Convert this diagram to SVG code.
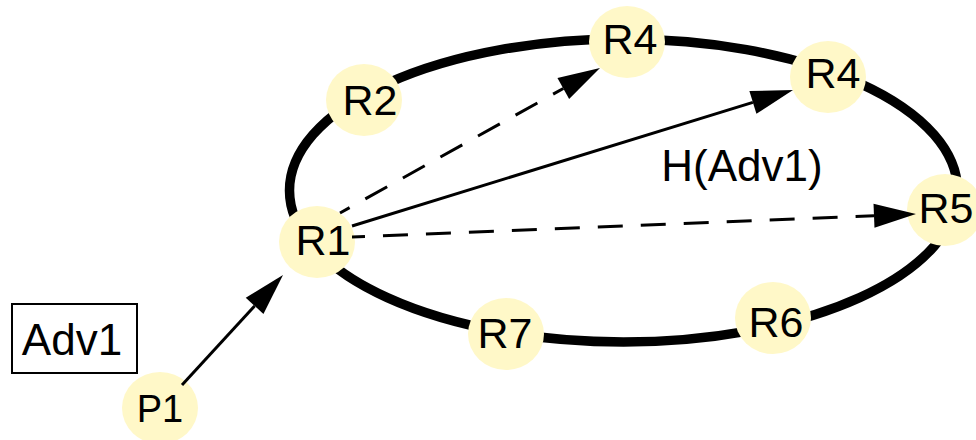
<svg xmlns="http://www.w3.org/2000/svg" width="976" height="440" viewBox="0 0 976 440">
<style>
.ring{fill:none;stroke:#000;stroke-width:9.5}
.node ellipse{fill:#FFF8C8;stroke:none}
.lbl{font-family:"Liberation Sans",Arial,sans-serif;font-size:43px;fill:#000;text-anchor:middle}
.edge{stroke:#000;stroke-width:3;fill:none}
.dash{stroke-dasharray:25 18}
.box{fill:none;stroke:#000;stroke-width:2}
</style>
<defs>
<marker id="ah" markerUnits="userSpaceOnUse" markerWidth="44" markerHeight="26" viewBox="0 -13 44 26" refX="0" refY="0" orient="auto" overflow="visible">
<path d="M0,-12 L42,0 L0,12 Z" fill="#000"/>
</marker>
</defs>
<rect width="976" height="440" fill="#fff"/>
<ellipse class="ring" cx="623.5" cy="190.5" rx="334" ry="151.5"/>
<g id="R4a" class="node"><ellipse cx="627" cy="42" rx="38" ry="36"/><text class="lbl" x="630" y="54">R4</text></g>
<g id="R4b" class="node"><ellipse cx="828" cy="77" rx="38" ry="36"/><text class="lbl" x="833" y="88">R4</text></g>
<g id="R2" class="node"><ellipse cx="364" cy="100" rx="38" ry="36"/><text class="lbl" x="370" y="115">R2</text></g>
<g id="R1" class="node"><ellipse cx="317" cy="242" rx="38" ry="36"/><text class="lbl" x="323" y="255">R1</text></g>
<g id="R5" class="node"><ellipse cx="945" cy="210" rx="38" ry="36"/><text class="lbl" x="946" y="223">R5</text></g>
<g id="R6" class="node"><ellipse cx="773" cy="318" rx="38" ry="36"/><text class="lbl" x="776" y="337">R6</text></g>
<g id="R7" class="node"><ellipse cx="506" cy="334" rx="38" ry="36"/><text class="lbl" x="505" y="348">R7</text></g>
<g id="P1" class="node"><ellipse cx="160" cy="408" rx="38" ry="36"/><text class="lbl" x="160" y="422" style="font-size:38px">P1</text></g>
<g id="Adv1"><rect class="box" x="12" y="304" width="125" height="69"/><text class="lbl" x="72" y="355" style="font-size:44px">Adv1</text></g>
<g id="connectors">
<line class="edge" x1="182" y1="385" x2="254.6" y2="305.9" marker-end="url(#ah)"/>
<line class="edge dash" style="stroke-dashoffset:14" x1="340" y1="213" x2="563.3" y2="88.5" marker-end="url(#ah)"/>
<line class="edge" x1="352" y1="226" x2="752.9" y2="102.4" marker-end="url(#ah)"/>
<line class="edge dash" style="stroke-dashoffset:12" x1="352" y1="237" x2="874" y2="215.7" marker-end="url(#ah)"/>
</g>
<text id="label-hadv1" class="lbl" x="742" y="181" style="font-size:44px">H(Adv1)</text>
</svg>
